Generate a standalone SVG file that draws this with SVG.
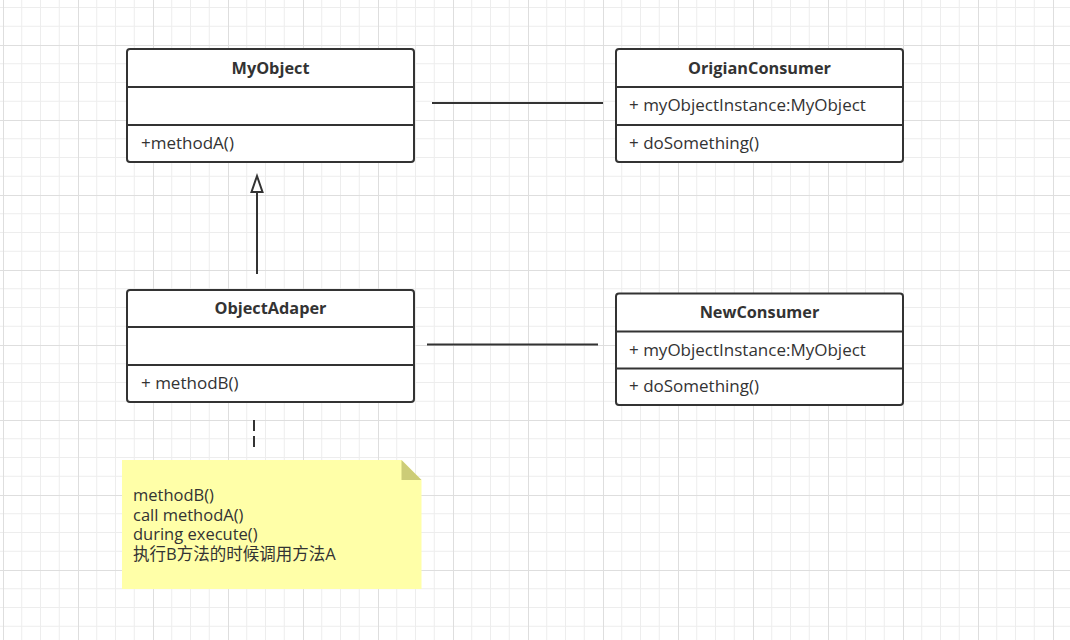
<svg xmlns="http://www.w3.org/2000/svg" width="1070" height="640" viewBox="0 0 1070 640">
<style>
.box{fill:#fff;stroke:#333;stroke-width:2}
.div{stroke:#333;stroke-width:2}
.hd{font-family:"Open Sans","Noto Sans CJK SC",sans-serif;font-size:16.3px;font-weight:bold;fill:#333;text-anchor:middle}
.it{font-family:"Open Sans","Noto Sans CJK SC",sans-serif;font-size:17px;fill:#333}
.nt{font-family:"Open Sans","Noto Sans CJK SC",sans-serif;font-size:16.5px;fill:#333}
.conn{stroke:#333;stroke-width:2;fill:none}
</style>
<defs>
<pattern id="grid" patternUnits="userSpaceOnUse" x="3" y="45" width="75" height="75">
<g stroke="#ededed" stroke-width="1">
<line x1="18.75" y1="0" x2="18.75" y2="75"/>
<line x1="37.5" y1="0" x2="37.5" y2="75"/>
<line x1="56.25" y1="0" x2="56.25" y2="75"/>
<line x1="0" y1="18.75" x2="75" y2="18.75"/>
<line x1="0" y1="37.5" x2="75" y2="37.5"/>
<line x1="0" y1="56.25" x2="75" y2="56.25"/>
</g>
<g stroke="#dedede" stroke-width="1">
<line x1="0.5" y1="0" x2="0.5" y2="75"/>
<line x1="0" y1="0.5" x2="75" y2="0.5"/>
</g>
</pattern>
</defs>
<rect width="1070" height="640" fill="#fff"/>
<rect width="1070" height="640" fill="url(#grid)"/>

<g id="connectors">
<line class="conn" x1="432" y1="103" x2="603" y2="103"/>
<line class="conn" x1="427" y1="344.5" x2="598" y2="344.5"/>
<line class="conn" x1="257" y1="192" x2="257" y2="274"/>
<polygon points="257,176 251.5,192 262.5,192" fill="#fff" stroke="#333" stroke-width="2" stroke-linejoin="miter"/>
<line class="conn" x1="254" y1="420" x2="254" y2="449" stroke-dasharray="11,5"/>
</g>

<g id="MyObject">
<rect class="box" x="127" y="49" width="287" height="113" rx="3"/>
<line class="div" x1="127" y1="87" x2="414" y2="87"/>
<line class="div" x1="127" y1="125" x2="414" y2="125"/>
<text class="hd" x="270.5" y="74">MyObject</text>
<text class="it" x="141" y="149">+methodA()</text>
</g>

<g id="OrigianConsumer">
<rect class="box" x="616" y="49" width="287" height="113" rx="3"/>
<line class="div" x1="616" y1="87" x2="903" y2="87"/>
<line class="div" x1="616" y1="125" x2="903" y2="125"/>
<text class="hd" x="759.5" y="74">OrigianConsumer</text>
<text class="it" x="629" y="111">+ myObjectInstance:MyObject</text>
<text class="it" x="629" y="149">+ doSomething()</text>
</g>

<g id="ObjectAdaper">
<rect class="box" x="127" y="290" width="287" height="112" rx="3"/>
<line class="div" x1="127" y1="327" x2="414" y2="327"/>
<line class="div" x1="127" y1="365" x2="414" y2="365"/>
<text class="hd" x="270.5" y="314">ObjectAdaper</text>
<text class="it" x="141" y="389">+ methodB()</text>
</g>

<g id="NewConsumer">
<rect class="box" x="616" y="293.5" width="287" height="111.5" rx="3"/>
<line class="div" x1="616" y1="331.5" x2="903" y2="331.5"/>
<line class="div" x1="616" y1="368.5" x2="903" y2="368.5"/>
<text class="hd" x="759.5" y="318">NewConsumer</text>
<text class="it" x="629" y="356">+ myObjectInstance:MyObject</text>
<text class="it" x="629" y="392">+ doSomething()</text>
</g>

<g id="note">
<path d="M122,460 H401.5 L421.5,480 V589 H122 Z" fill="#ffffa8"/>
<path d="M401.5,460 L421.5,480 H401.5 Z" fill="#cccc77"/>
<text class="nt"><tspan x="133" y="501">methodB()</tspan><tspan x="133" y="521">call methodA()</tspan><tspan x="133" y="540">during execute()</tspan><tspan x="133" y="560">执行B方法的时候调用方法A</tspan></text>
</g>
</svg>
